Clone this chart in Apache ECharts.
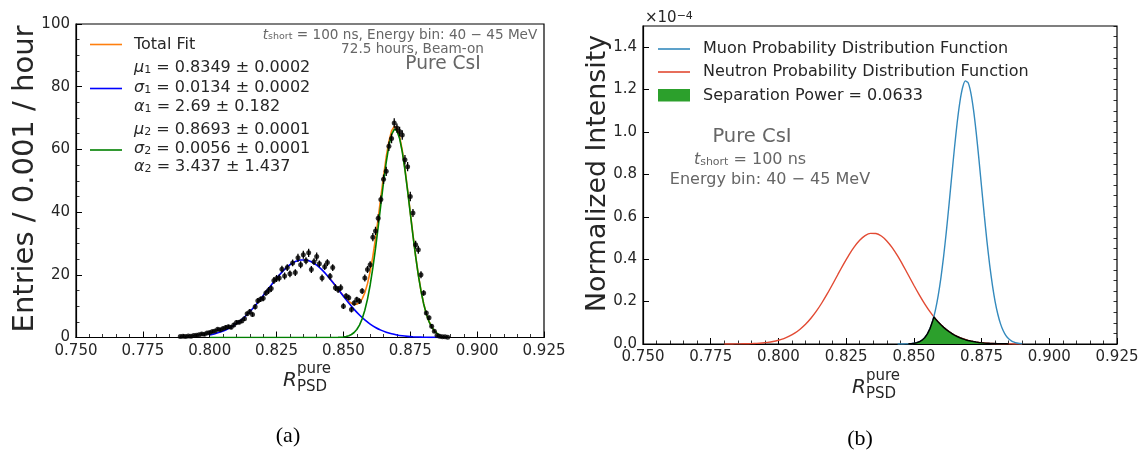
<!DOCTYPE html>
<html><head><meta charset="utf-8">
<script src="https://cdn.jsdelivr.net/npm/echarts@6/dist/echarts.min.js"></script>
<style>html,body{margin:0;padding:0;background:#fff}#c{width:1145px;height:455px}</style>
</head><body><div id="c"></div>
<script>
// ---------- DATA ----------
// Panel (a): measured entries per 0.001 bin: [R_PSD, entries/hour, error]
const entries = [
[0.789,0.3,0.3],[0.790,0.4,0.3],[0.791,0.3,0.3],[0.792,0.5,0.3],[0.793,0.4,0.3],[0.794,0.6,0.3],[0.795,0.7,0.3],[0.796,0.9,0.3],[0.797,1.1,0.5],[0.798,1.0,0.5],
[0.799,1.4,0.5],[0.800,1.6,0.5],[0.801,1.9,0.5],[0.802,2.1,0.5],[0.803,2.6,0.5],[0.804,2.5,0.5],[0.805,2.9,0.5],[0.806,3.2,0.7],[0.807,3.4,0.7],[0.808,3.3,0.7],
[0.809,4.0,0.7],[0.810,4.8,0.7],[0.811,4.9,0.7],[0.812,5.3,0.7],[0.813,6.0,0.7],[0.814,7.6,0.7],[0.815,8.2,0.9],[0.816,7.3,0.7],[0.817,9.8,0.9],[0.818,11.7,0.9],
[0.819,12.2,0.9],[0.820,12.5,0.9],[0.821,14.2,0.9],[0.822,15.0,1.1],[0.823,15.6,1.1],[0.824,18.2,1.1],[0.825,18.8,1.1],[0.826,19.0,1.1],[0.827,21.8,1.1],[0.828,19.6,1.1],
[0.829,22.3,1.1],[0.830,20.3,1.1],[0.831,23.8,1.1],[0.832,20.7,1.1],[0.833,25.4,1.3],[0.834,23.2,1.1],[0.835,26.4,1.3],[0.836,24.5,1.1],[0.837,27.0,1.3],[0.838,21.7,1.1],
[0.839,24.2,1.1],[0.840,25.8,1.3],[0.841,23.5,1.1],[0.842,19.0,1.1],[0.843,22.6,1.1],[0.844,23.9,1.1],[0.845,19.5,1.1],[0.846,22.3,1.1],[0.847,15.9,1.1],[0.848,15.3,1.1],
[0.849,15.9,1.1],[0.850,10.0,0.9],[0.851,13.2,0.9],[0.852,12.7,0.9],[0.853,8.9,0.9],[0.854,11.0,0.9],[0.855,12.1,0.9],[0.856,11.6,0.9],[0.857,14.8,0.9],[0.858,19.0,1.1],
[0.859,21.7,1.1],[0.860,23.2,1.1],[0.861,32.0,1.3],[0.862,34.0,1.3],[0.863,38.0,1.3],[0.864,44.0,1.3],[0.865,50.5,1.5],[0.866,53.0,1.5],[0.867,61.0,1.5],[0.868,63.5,1.5],
[0.869,68.4,1.5],[0.870,66.8,1.5],[0.871,65.7,1.5],[0.872,64.6,1.5],[0.873,56.7,1.5],[0.874,54.5,1.5],[0.875,45.0,1.5],[0.876,39.7,1.3],[0.877,29.6,1.3],[0.878,28.0,1.3],
[0.879,20.0,1.1],[0.880,14.2,0.9],[0.881,7.8,0.7],[0.882,6.3,0.7],[0.883,3.6,0.7],[0.884,2.0,0.5],[0.885,0.6,0.3],[0.886,0.4,0.3],[0.887,0.2,0.3],[0.888,0.2,0.3],[0.889,0.1,0.3]
];
// Fit component 1 (blue)
const fit1 = [
[0.800,0.84],[0.802,1.22],[0.804,1.74],[0.806,2.42],[0.808,3.31],[0.810,4.41],[0.812,5.76],[0.814,7.35],[0.816,9.17],[0.818,11.20],
[0.820,13.37],[0.822,15.61],[0.824,17.81],[0.826,19.89],[0.828,21.72],[0.830,23.20],[0.832,24.23],[0.834,24.74],[0.836,24.72],[0.838,24.15],
[0.840,23.06],[0.842,21.55],[0.844,19.69],[0.846,17.60],[0.848,15.38],[0.850,13.14],[0.852,10.99],[0.854,8.98],[0.856,7.18],[0.858,5.61],
[0.860,4.29],[0.862,3.21],[0.864,2.35],[0.866,1.68],[0.868,1.17],[0.870,0.80],[0.872,0.54],[0.874,0.35],[0.876,0.22],[0.878,0.14],
[0.880,0.09],[0.882,0.05],[0.884,0.03],[0.886,0.02]
];
// Fit component 2 (green)
const fit2 = [
[0.800,0.00],[0.846,0.00],[0.848,0.05],[0.850,0.18],[0.851,0.32],[0.852,0.56],[0.853,0.96],[0.854,1.59],[0.855,2.55],[0.856,3.96],
[0.857,5.96],[0.858,8.68],[0.859,12.26],[0.860,16.75],[0.861,22.18],[0.862,28.42],[0.863,35.31],[0.864,42.49],[0.865,49.52],[0.866,55.90],
[0.867,61.13],[0.868,64.73],[0.869,66.40],[0.870,65.98],[0.871,63.51],[0.872,59.20],[0.873,53.46],[0.874,46.77],[0.875,39.62],[0.876,32.52],
[0.877,25.85],[0.878,19.89],[0.879,14.84],[0.880,10.71],[0.881,7.50],[0.882,5.08],[0.883,3.34],[0.884,2.12],[0.885,1.30],[0.886,0.78]
];
// Total fit (orange)
const fitTotal = [
[0.845,18.67],[0.846,17.60],[0.847,16.49],[0.848,15.43],[0.849,14.36],[0.850,13.32],[0.851,12.37],[0.852,11.55],[0.853,10.92],[0.854,10.57],
[0.855,10.60],[0.856,11.14],[0.857,12.33],[0.858,14.29],[0.859,17.18],[0.860,21.04],[0.861,25.90],[0.862,31.63],[0.863,38.06],[0.864,44.84],
[0.865,51.51],[0.866,57.58],[0.867,62.54],[0.868,65.90],[0.869,67.37],[0.870,66.78],[0.871,64.17],[0.872,59.74],[0.873,53.90],[0.874,47.12],
[0.875,39.90],[0.876,32.74],[0.877,26.03],[0.878,20.03],[0.879,14.95],[0.880,10.80],[0.881,7.57],[0.882,5.13],[0.883,3.38],[0.884,2.15],[0.885,1.32]
];
// Panel (b): normalized PDFs (x1e-4)
const neutronPdf = [
[0.780,0.0001],[0.782,0.0002],[0.784,0.0004],[0.786,0.0007],[0.788,0.0011],[0.790,0.0019],[0.792,0.0031],[0.794,0.0050],[0.796,0.0078],[0.798,0.0118],
[0.800,0.0177],[0.802,0.0257],[0.804,0.0367],[0.806,0.0510],[0.808,0.0698],[0.810,0.0930],[0.812,0.1215],[0.814,0.1550],[0.816,0.1934],[0.818,0.2362],
[0.820,0.2820],[0.822,0.3292],[0.824,0.3756],[0.826,0.4195],[0.828,0.4581],[0.830,0.4893],[0.832,0.5110],[0.834,0.5218],[0.836,0.5213],[0.838,0.5093],
[0.840,0.4863],[0.842,0.4545],[0.844,0.4153],[0.846,0.3712],[0.848,0.3244],[0.850,0.2771],[0.852,0.2318],[0.854,0.1894],[0.856,0.1514],[0.858,0.1183],
[0.860,0.0905],[0.862,0.0677],[0.864,0.0496],[0.866,0.0354],[0.868,0.0247],[0.870,0.0169],[0.872,0.0114],[0.874,0.0074],[0.876,0.0046],[0.878,0.0030],
[0.880,0.0019],[0.882,0.0011],[0.884,0.0006],[0.886,0.0004],[0.888,0.0002],[0.890,0.0001]
];
const muonPdf = [
[0.844,0.0001],[0.846,0.0003],[0.848,0.0009],[0.849,0.0017],[0.850,0.0034],[0.851,0.0060],[0.852,0.0105],[0.853,0.0179],[0.854,0.0297],[0.855,0.0477],
[0.856,0.0740],[0.857,0.1114],[0.858,0.1622],[0.859,0.2291],[0.860,0.3131],[0.861,0.4145],[0.862,0.5312],[0.863,0.6600],[0.864,0.7941],[0.865,0.9255],
[0.866,1.0448],[0.867,1.1425],[0.868,1.2098],[0.869,1.2410],[0.870,1.2332],[0.871,1.1870],[0.872,1.1064],[0.873,0.9992],[0.874,0.8741],[0.875,0.7405],
[0.876,0.6078],[0.877,0.4831],[0.878,0.3717],[0.879,0.2774],[0.880,0.2002],[0.881,0.1402],[0.882,0.0949],[0.883,0.0624],[0.884,0.0396],[0.885,0.0243],
[0.886,0.0146],[0.887,0.0084],[0.888,0.0047],[0.889,0.0025],[0.890,0.0013]
];
const overlap = [
[0.848,0.0009],[0.849,0.0017],[0.850,0.0034],[0.851,0.0060],[0.852,0.0105],[0.853,0.0179],[0.854,0.0297],[0.855,0.0477],[0.856,0.0740],[0.857,0.1114],
[0.8574,0.128],[0.858,0.1183],[0.859,0.1038],[0.860,0.0905],[0.861,0.0785],[0.862,0.0677],[0.863,0.0580],[0.864,0.0496],[0.865,0.0420],[0.866,0.0354],
[0.867,0.0297],[0.868,0.0247],[0.869,0.0205],[0.870,0.0169],[0.871,0.0139],[0.872,0.0114],[0.873,0.0093],[0.874,0.0074],[0.875,0.0059],[0.876,0.0046],
[0.877,0.0038],[0.878,0.0030],[0.879,0.0023],[0.880,0.0019],[0.881,0.0015],[0.882,0.0011],[0.883,0.0008],[0.884,0.0006],[0.885,0.0004]
];
const separationPower = '0.0633';

// ---------- CHART ----------
const FONT = 'DejaVu Sans';
const INK = '#262626';
const GRAY = '#666666';
const C_ORANGE = '#ff7f0e', C_BLUE = '#0000ff', C_GREEN = '#008000';
const C_MUON = '#348abd', C_NEUTRON = '#e24a33', C_FILL = '#2ca02c';

function xAxisCfg(gi) {
  return {
    type: 'value', gridIndex: gi, min: 0.75, max: 0.925, interval: 0.025,
    axisLine: { show: true, onZero: false, lineStyle: { color: '#000', width: 1.2 } },
    axisTick: { show: true, inside: true, length: 6, lineStyle: { color: '#000', width: 1 } },
    minorTick: { show: true, splitNumber: 5, length: 3.5, lineStyle: { color: '#000', width: 0.8 } },
    splitLine: { show: false }, minorSplitLine: { show: false },
    axisLabel: { fontSize: 15, color: INK, margin: 6, fontFamily: FONT, formatter: v => v.toFixed(3) }
  };
}

const rich16 = {
  m: { fontStyle: 'italic', fontSize: 16, fontFamily: FONT, fill: INK },
  s: { fontSize: 11, fontFamily: FONT, verticalAlign: 'bottom', lineHeight: 14, padding: [6, 0, 0, 0] }
};
function txt(x, y, text, o) {
  return { type: 'text', x, y, z: 100, style: Object.assign({ text, fill: INK, fontFamily: FONT, fontSize: 16, align: 'left', verticalAlign: 'middle' }, o || {}) };
}
function seg(x1, x2, y, color) {
  return { type: 'line', z: 100, shape: { x1, y1: y, x2, y2: y }, style: { stroke: color, lineWidth: 1.6 } };
}

const graphics = [
  // panel (a) legend
  seg(90, 122, 44.5, C_ORANGE), txt(134, 44.5, 'Total Fit'),
  txt(134, 68, '{m|μ}{s|1} = 0.8349 ± 0.0002', { rich: rich16 }),
  seg(90, 122, 88.5, C_BLUE),
  txt(134, 87.5, '{m|σ}{s|1} = 0.0134 ± 0.0002', { rich: rich16 }),
  txt(134, 106.5, '{m|α}{s|1} = 2.69 ± 0.182', { rich: rich16 }),
  txt(134, 129.5, '{m|μ}{s|2} = 0.8693 ± 0.0001', { rich: rich16 }),
  seg(90, 122, 150, C_GREEN),
  txt(134, 149, '{m|σ}{s|2} = 0.0056 ± 0.0001', { rich: rich16 }),
  txt(134, 166.5, '{m|α}{s|2} = 3.437 ± 1.437', { rich: rich16 }),
  // panel (a) annotation
  txt(400, 35, '{m|t}{s|short} = 100 ns, Energy bin: 40 − 45 MeV', { fill: GRAY, fontSize: 13.6, align: 'center',
     rich: { m: { fontStyle: 'italic', fontSize: 13.6, fontFamily: FONT, fill: GRAY }, s: { fontSize: 9.5, fontFamily: FONT, fill: GRAY, verticalAlign: 'bottom', lineHeight: 12, padding: [5, 0, 0, 0] } } }),
  txt(412.5, 49.5, '72.5 hours, Beam-on', { fill: GRAY, fontSize: 13.6, align: 'center' }),
  txt(443, 64, 'Pure CsI', { fill: GRAY, fontSize: 18.6, align: 'center' }),
  // panel (a) axis titles
  { type: 'text', x: 25, y: 179, rotation: Math.PI / 2, z: 100, style: { text: 'Entries / 0.001 / hour', fill: INK, fontFamily: FONT, fontSize: 29, align: 'center', verticalAlign: 'middle' } },
  txt(283, 381, 'R', { fontStyle: 'italic', fontSize: 20 }),
  txt(297, 369, 'pure', { fontSize: 15 }),
  txt(297, 387, 'PSD', { fontSize: 15 }),
  txt(288, 436, '(a)', { fontFamily: 'Liberation Serif', fontSize: 22, align: 'center', fill: '#000' }),

  // panel (b) legend
  seg(658, 690, 49, C_MUON), txt(703, 49, 'Muon Probability Distribution Function'),
  seg(658, 690, 72, C_NEUTRON), txt(703, 72, 'Neutron Probability Distribution Function'),
  { type: 'rect', z: 100, shape: { x: 658, y: 89, width: 32, height: 12.5 }, style: { fill: C_FILL } },
  txt(703, 95.5, 'Separation Power = ' + separationPower),
  // panel (b) annotation
  txt(752, 137, 'Pure CsI', { fill: GRAY, fontSize: 19.5, align: 'center' }),
  txt(750, 160, '{m|t}{s|short} = 100 ns', { fill: GRAY, fontSize: 16, align: 'center',
     rich: { m: { fontStyle: 'italic', fontSize: 16, fontFamily: FONT, fill: GRAY }, s: { fontSize: 11, fontFamily: FONT, fill: GRAY, verticalAlign: 'bottom', lineHeight: 14, padding: [6, 0, 0, 0] } } }),
  txt(770, 179.5, 'Energy bin: 40 − 45 MeV', { fill: GRAY, fontSize: 16, align: 'center' }),
  // exponent
  txt(645, 18, '×10{e|−4}', { fontSize: 15, rich: { e: { fontSize: 11, fontFamily: FONT, fill: INK, verticalAlign: 'top', lineHeight: 14, padding: [0, 0, 6, 0] } } }),
  // panel (b) axis titles
  { type: 'text', x: 598, y: 173.5, rotation: Math.PI / 2, z: 100, style: { text: 'Normalized Intensity', fill: INK, fontFamily: FONT, fontSize: 26.8, align: 'center', verticalAlign: 'middle' } },
  txt(852, 388, 'R', { fontStyle: 'italic', fontSize: 20 }),
  txt(866, 376, 'pure', { fontSize: 15 }),
  txt(866, 394, 'PSD', { fontSize: 15 }),
  txt(860, 439, '(b)', { fontFamily: 'Liberation Serif', fontSize: 22, align: 'center', fill: '#000' })
];

const option = {
  animation: false,
  backgroundColor: '#fff',
  grid: [
    { left: 76, right: 601, top: 24, bottom: 117.5, show: true, borderColor: '#000', borderWidth: 1.2, backgroundColor: 'transparent' },
    { left: 643, right: 28, top: 26, bottom: 111, show: true, borderColor: '#000', borderWidth: 1.2, backgroundColor: 'transparent' }
  ],
  xAxis: [xAxisCfg(0), xAxisCfg(1)],
  yAxis: [
    { type: 'value', gridIndex: 0, min: 0, max: 100, interval: 20,
      axisLine: { show: true, lineStyle: { color: '#000', width: 1.2 } },
      axisTick: { show: true, inside: true, length: 6, lineStyle: { color: '#000' } },
      minorTick: { show: true, splitNumber: 4, length: 3.5, lineStyle: { color: '#000', width: 0.8 } },
      splitLine: { show: false },
      axisLabel: { fontSize: 15, color: INK, margin: 6, fontFamily: FONT } },
    { type: 'value', gridIndex: 1, min: 0, max: 1.5, interval: 0.2,
      axisLine: { show: true, lineStyle: { color: '#000', width: 1.2 } },
      axisTick: { show: true, inside: true, length: 6, lineStyle: { color: '#000' } },
      minorTick: { show: false }, splitLine: { show: false },
      axisLabel: { fontSize: 15, color: INK, margin: 6, fontFamily: FONT, showMaxLabel: false, formatter: v => v.toFixed(1) } },
    { type: 'value', gridIndex: 1, min: 0, max: 1.5, interval: 0.05,
      axisLine: { show: false }, axisLabel: { show: false }, splitLine: { show: false },
      axisTick: { show: true, inside: true, length: 3.5, lineStyle: { color: '#000', width: 0.8 } } }
  ],
  graphic: graphics,
  series: [
    { type: 'line', name: 'Total Fit', xAxisIndex: 0, yAxisIndex: 0, data: fitTotal, showSymbol: false, lineStyle: { color: C_ORANGE, width: 1.6 }, z: 2 },
    { type: 'line', xAxisIndex: 0, yAxisIndex: 0, data: fit1, showSymbol: false, smooth: 0.2, lineStyle: { color: C_BLUE, width: 1.6 }, z: 3 },
    { type: 'line', xAxisIndex: 0, yAxisIndex: 0, data: fit2, showSymbol: false, lineStyle: { color: C_GREEN, width: 1.6 }, z: 4 },
    { type: 'custom', xAxisIndex: 0, yAxisIndex: 0, data: entries, z: 5, clip: true,
      encode: { x: 0, y: 1 },
      renderItem: function (params, api) {
        const x = api.value(0), y = api.value(1), e = api.value(2);
        const p1 = api.coord([x, y - e]), p2 = api.coord([x, y + e]);
        return { type: 'line', shape: { x1: p1[0], y1: p1[1], x2: p2[0], y2: p2[1] }, style: { stroke: '#000', lineWidth: 1.3 } };
      } },
    { type: 'scatter', xAxisIndex: 0, yAxisIndex: 0, data: entries, symbol: 'circle', symbolSize: 5, itemStyle: { color: '#000' }, z: 6 },

    { type: 'line', xAxisIndex: 1, yAxisIndex: 1, data: neutronPdf, showSymbol: false, smooth: 0.2, lineStyle: { color: C_NEUTRON, width: 1.4 }, z: 2 },
    { type: 'line', xAxisIndex: 1, yAxisIndex: 1, data: muonPdf, showSymbol: false, smooth: 0.2, lineStyle: { color: C_MUON, width: 1.4 }, z: 3 },
    { type: 'line', xAxisIndex: 1, yAxisIndex: 1, data: overlap, showSymbol: false, lineStyle: { color: '#000', width: 1.5 },
      areaStyle: { color: C_FILL, opacity: 1 }, z: 4 }
  ]
};
const chart = echarts.init(document.getElementById('c'), null, { renderer: 'canvas' });
chart.setOption(option);
</script>
</body></html>
